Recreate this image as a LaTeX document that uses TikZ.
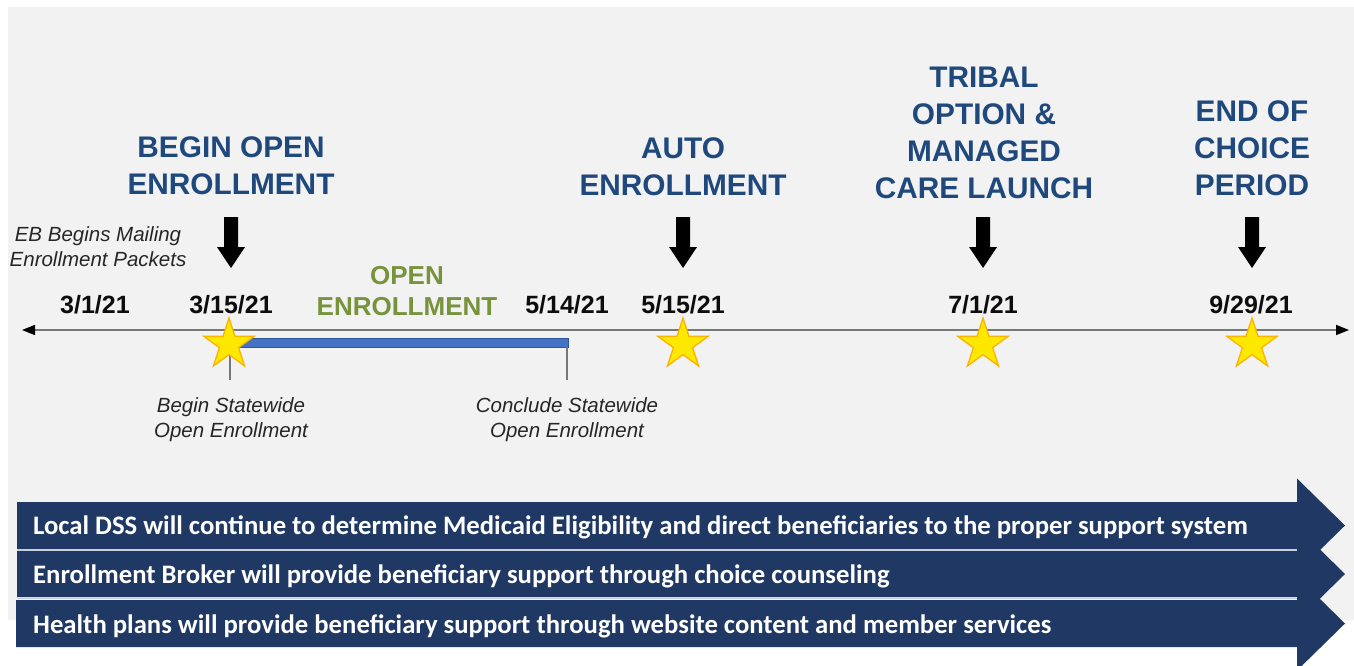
\documentclass[tikz,border=0pt]{standalone}
\usepackage{fontspec}
\setmainfont{Liberation Sans}
\newfontfamily\carlito{Carlito}
\usetikzlibrary{shapes.geometric,arrows.meta}
\definecolor{bg}{RGB}{242,242,242}
\definecolor{headblue}{RGB}{31,73,125}
\definecolor{navyband}{RGB}{31,56,100}
\definecolor{bandline}{RGB}{200,206,218}
\definecolor{ogreen}{RGB}{119,147,60}
\definecolor{barblue}{RGB}{68,114,196}
\definecolor{barborder}{RGB}{47,85,151}
\definecolor{staryellow}{RGB}{255,232,0}
\definecolor{starborder}{RGB}{250,180,0}
\definecolor{italgray}{RGB}{38,38,38}
\definecolor{lineg}{RGB}{120,120,120}
\begin{document}
\begin{tikzpicture}[x=1pt,y=-1pt,
  heading/.style={font=\fontsize{29.8}{36.7}\selectfont\bfseries, text=headblue, align=center, anchor=base, inner sep=0},
  greenlbl/.style={font=\fontsize{26}{31}\selectfont\bfseries, text=ogreen, align=center, anchor=base, inner sep=0},
  datelbl/.style={font=\fontsize{25}{30}\selectfont\bfseries, text=black!95, anchor=base, inner sep=0},
  note/.style={font=\fontsize{20.5}{24.5}\selectfont\itshape, text=italgray, align=center, anchor=base, inner sep=0},
  bandtext/.style={font=\carlito\fontsize{26.7}{30}\selectfont\bfseries, text=white, anchor=base west, inner sep=0},
  starmark/.style={star, star points=5, star point ratio=2.618, minimum size=53pt, inner sep=0pt, fill=staryellow, draw=starborder, line width=1.3pt},
  tick/.style={draw=lineg, line width=1.3pt},
  downarr/.pic={\fill[black] (-7,0) -- (7,0) -- (7,30) -- (14,30) -- (0,51) -- (-14,30) -- (-7,30) -- cycle;}
]
\useasboundingbox (0,0) rectangle (1354,665);
% background
\fill[bg] (8,7) rectangle (1354,620);

% timeline
\coordinate (tlL) at (22,330);
\coordinate (tlR) at (1349,330);
\draw[lineg, line width=1.6pt, {Triangle[length=13pt,width=10pt,color=black]}-{Triangle[length=13pt,width=10pt,color=black]}] (tlL) -- (tlR);

% open enrollment bar
\node[draw=barborder, fill=barblue, line width=0.8pt, minimum width=338pt, minimum height=9pt, inner sep=0, anchor=north west] (bar) at (230,338) {};

% ticks
\coordinate (tickAtop) at (230,347);
\coordinate (tickAbot) at (230,380);
\coordinate (tickBtop) at (567,347);
\coordinate (tickBbot) at (567,380);
\draw[tick] (tickAtop) -- (tickAbot);
\draw[tick] (tickBtop) -- (tickBbot);

% stars
\node[starmark] (s1) at (229,344.5) {};
\node[starmark] (s2) at (683,344.5) {};
\node[starmark] (s3) at (983,344.5) {};
\node[starmark] (s4) at (1252,344.5) {};

% dates
\node[datelbl] (d1) at (95,313) {3/1/21};
\node[datelbl] (d2) at (231,313) {3/15/21};
\node[datelbl] (d3) at (567,313) {5/14/21};
\node[datelbl] (d4) at (683,313) {5/15/21};
\node[datelbl] (d5) at (983,313) {7/1/21};
\node[datelbl] (d6) at (1251,313) {9/29/21};

% down arrows
\pic at (231,217) {downarr};
\pic at (683,217) {downarr};
\pic at (983,217) {downarr};
\pic at (1252,217) {downarr};

% headings (anchor = baseline of last line)
\node[heading] (h1) at (231,194) {BEGIN OPEN\\ENROLLMENT};
\node[heading] (h2) at (683,195) {AUTO\\ENROLLMENT};
\node[heading] (h3) at (984,198) {TRIBAL\\OPTION \&\\MANAGED\\CARE LAUNCH};
\node[heading] (h4) at (1252,195) {END OF\\CHOICE\\PERIOD};

% green label
\node[greenlbl] (oe) at (407,315) {OPEN\\ENROLLMENT};

% notes
\node[note] (eb) at (98,266) {EB Begins Mailing\\Enrollment Packets};
\node[note] (bs) at (231,437) {Begin Statewide\\Open Enrollment};
\node[note] (cs) at (567,437) {Conclude Statewide\\Open Enrollment};

% bottom band arrows
\fill[navyband] (17,502) -- (1297,502) -- (1297,478.5) -- (1345,525.5) -- (1297,572.5) -- (1297,549) -- (17,549) -- cycle;
\fill[navyband] (17,551) -- (1297,551) -- (1297,527) -- (1345,574) -- (1297,621) -- (1297,597) -- (17,597) -- cycle;
\fill[navyband] (16,600) -- (1297,600) -- (1297,576.5) -- (1345,623.5) -- (1297,670.5) -- (1297,647) -- (16,647) -- cycle;
\coordinate (sep1L) at (17,550);
\coordinate (sep1R) at (1297,550);
\coordinate (sep2L) at (17,598.5);
\coordinate (sep2R) at (1297,598.5);
\draw[bandline, line width=1.6pt] (sep1L) -- (sep1R);
\draw[bandline, line width=1.6pt] (sep2L) -- (sep2R);

\node[bandtext] (b1) at (33,534) {Local DSS will continue to determine Medicaid Eligibility and direct beneficiaries to the proper support system};
\node[bandtext] (b2) at (33,583) {Enrollment Broker will provide beneficiary support through choice counseling};
\node[bandtext] (b3) at (33,633) {Health plans will provide beneficiary support through website content and member services};
\end{tikzpicture}
\end{document}
